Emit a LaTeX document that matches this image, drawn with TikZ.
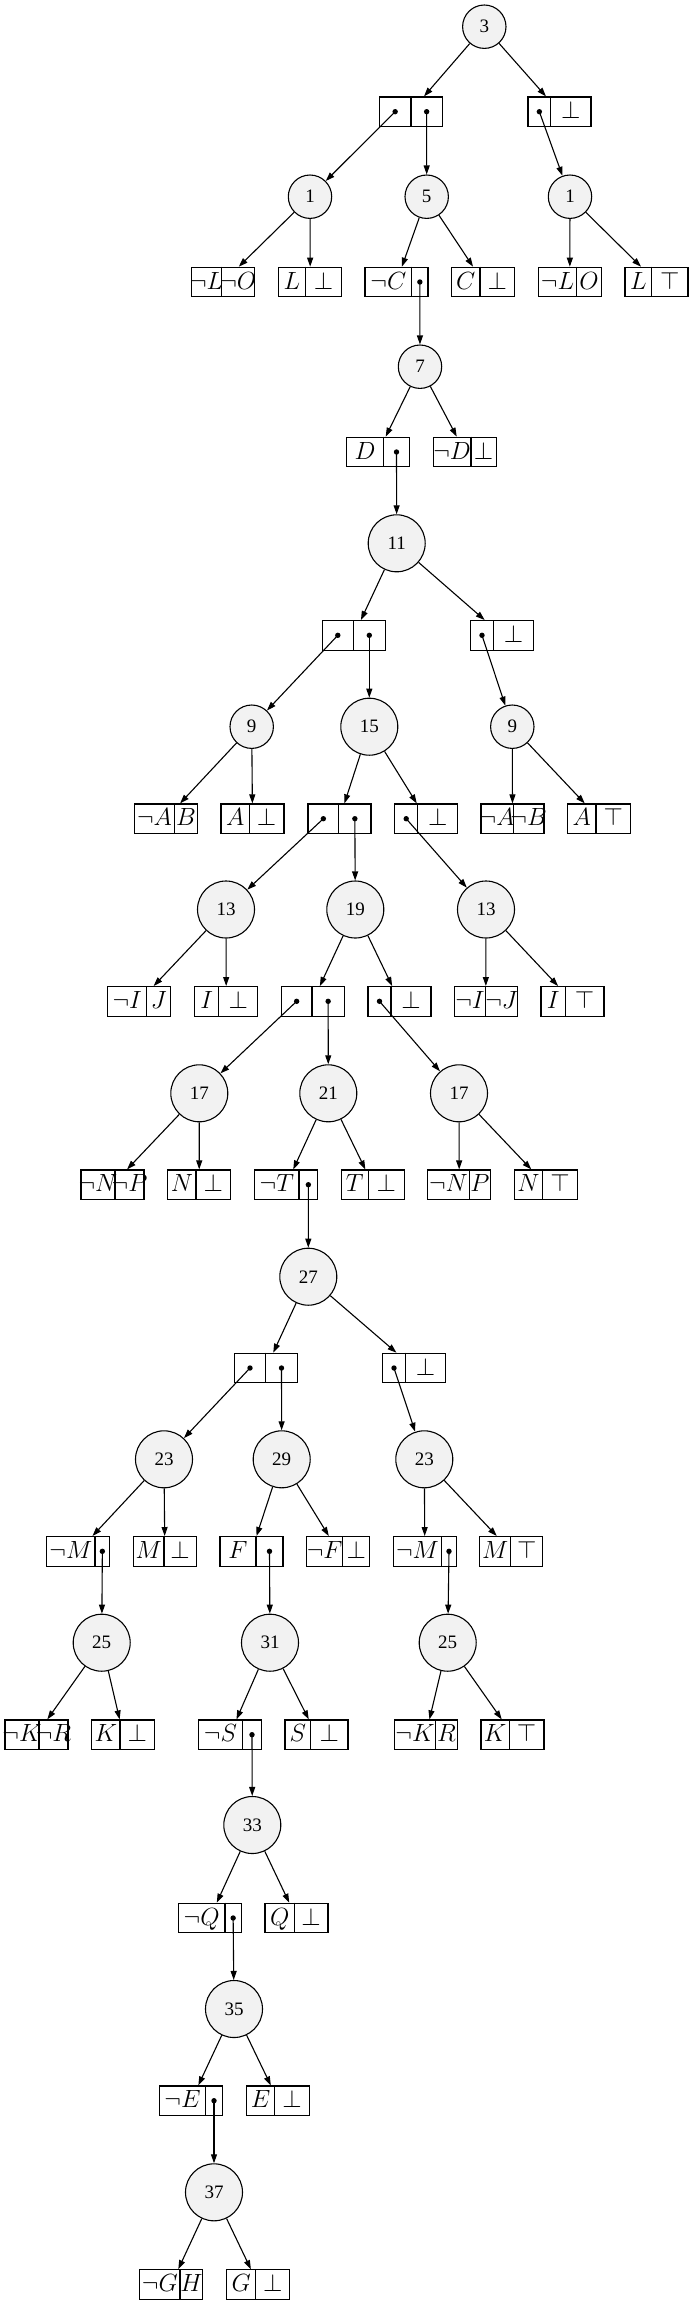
\documentclass[tikz,border=0pt]{standalone}
\usepackage{fontspec}
\setmainfont{Liberation Serif}
\usetikzlibrary{arrows.meta}

\definecolor{nodegray}{RGB}{242,242,242}

\tikzset{
	cnode/.style={circle, draw, fill=nodegray, minimum size=43.4pt, inner sep=0pt, line width=1.1pt, font=\fontsize{19}{22}\selectfont},
	cnodebig/.style={cnode, minimum size=57pt},
	recbox/.style={draw, rectangle, minimum width=63pt, minimum height=29.5pt, inner sep=0pt, line width=1.1pt},
	rectext/.style={inner sep=0pt, text height=16.5pt, text depth=2.5pt, font=\Huge},
	link/.style={-{Triangle[length=9pt,width=6pt]}, line width=1.1pt},
	portdot/.style={circle, fill, inner sep=0pt, minimum size=5.4pt},
}

% record with two cells: name, left edge, divider, y, left text, right text
\newcommand{\rec}[6]{
	\node[recbox] (#1) at ({#2+31.5},#4) {};
	\coordinate (#1-d) at (#3,#4);
	\draw[line width=1.1pt] (#1.north -| #1-d) -- (#1.south -| #1-d);
	\coordinate (#1-a) at ({(#2+#3)/2},#4);
	\coordinate (#1-b) at ({(#3+#2+63)/2},#4);
	\node[rectext] at (#1-a) {#5};
	\node[rectext] at (#1-b) {#6};
}

\begin{document}
\begin{tikzpicture}[x=1pt, y=-1pt]
	\useasboundingbox (0,0) rectangle (693,2305);

	% decision nodes
	\node[cnode] (n3) at (484.3,26.7) {3};
	\node[cnode] (n1a) at (310,196.7) {1};
	\node[cnode] (n5) at (426.7,196.7) {5};
	\node[cnode] (n1b) at (570,196.7) {1};
	\node[cnode] (n7) at (420,366.7) {7};
	\node[cnodebig] (n11) at (396.7,543.3) {11};
	\node[cnode] (n9a) at (251.7,726.7) {9};
	\node[cnodebig] (n15) at (369.3,726.7) {15};
	\node[cnode] (n9b) at (512.3,726.7) {9};
	\node[cnodebig] (n13a) at (226,909.5) {13};
	\node[cnodebig] (n19) at (355.3,909.5) {19};
	\node[cnodebig] (n13b) at (486,909.5) {13};
	\node[cnodebig] (n17a) at (199.3,1093.3) {17};
	\node[cnodebig] (n21) at (328.3,1093.3) {21};
	\node[cnodebig] (n17b) at (459,1093.3) {17};
	\node[cnodebig] (n27) at (308.3,1276.7) {27};
	\node[cnodebig] (n23a) at (164,1459.3) {23};
	\node[cnodebig] (n29) at (281.7,1459.3) {29};
	\node[cnodebig] (n23b) at (424.3,1459.3) {23};
	\node[cnodebig] (n25a) at (101.7,1642.7) {25};
	\node[cnodebig] (n31) at (270,1642.7) {31};
	\node[cnodebig] (n25b) at (447.7,1642.7) {25};
	\node[cnodebig] (n33) at (252.3,1825) {33};
	\node[cnodebig] (n35) at (234,2009) {35};
	\node[cnodebig] (n37) at (214,2192.3) {37};

	% records
	\rec{r3l}{379.3}{411}{111.7}{}{}
	\rec{r3r}{528}{550.7}{111.7}{}{$\bot$}

	\rec{r1al}{191.7}{221.7}{282}{$\neg L$}{$\neg O$}
	\rec{r1ar}{278.7}{305.3}{282}{$L$}{$\bot$}
	\rec{r5l}{365}{411.7}{282}{$\neg C$}{}
	\rec{r5r}{451.7}{480}{282}{$C$}{$\bot$}
	\rec{r1bl}{538.3}{576.7}{282}{$\neg L$}{$O$}
	\rec{r1br}{625}{651.7}{282}{$L$}{$\top$}

	\rec{r7l}{346.7}{383.3}{452}{$D$}{}
	\rec{r7r}{433.3}{471}{452}{$\neg D$}{$\bot$}

	\rec{r11l}{322.3}{353.3}{635.3}{}{}
	\rec{r11r}{470.7}{493.3}{635.3}{}{$\bot$}

	\rec{r9al}{134.3}{174.7}{818.7}{$\neg A$}{$B$}
	\rec{r9ar}{221}{249.3}{818.7}{$A$}{$\bot$}
	\rec{r15l}{308}{338.7}{818.7}{}{}
	\rec{r15r}{394.7}{417.7}{818.7}{}{$\bot$}
	\rec{r9bl}{481}{513.3}{818.7}{$\neg A$}{$\neg B$}
	\rec{r9br}{567.7}{596}{818.7}{$A$}{$\top$}

	\rec{r13al}{107.7}{146.7}{1001.3}{$\neg I$}{$J$}
	\rec{r13ar}{194.7}{218.7}{1001.3}{$I$}{$\bot$}
	\rec{r19l}{281.3}{312}{1001.3}{}{}
	\rec{r19r}{368}{391}{1001.3}{}{$\bot$}
	\rec{r13bl}{454.3}{485.7}{1001.3}{$\neg I$}{$\neg J$}
	\rec{r13br}{541}{565.3}{1001.3}{$I$}{$\top$}

	\rec{r17al}{81}{115}{1184.7}{$\neg N$}{$\neg P$}
	\rec{r17ar}{167.7}{196}{1184.7}{$N$}{$\bot$}
	\rec{r21l}{254.7}{299}{1184.7}{$\neg T$}{}
	\rec{r21r}{341.3}{368.3}{1184.7}{$T$}{$\bot$}
	\rec{r17bl}{427.7}{469.3}{1184.7}{$\neg N$}{$P$}
	\rec{r17br}{514.3}{542.7}{1184.7}{$N$}{$\top$}

	\rec{r27l}{234.7}{265.3}{1368}{}{}
	\rec{r27r}{382.7}{405.3}{1368}{}{$\bot$}

	\rec{r23al}{46.7}{95}{1551.3}{$\neg M$}{}
	\rec{r23ar}{133.3}{164}{1551.3}{$M$}{$\bot$}
	\rec{r29l}{220}{256}{1551.3}{$F$}{}
	\rec{r29r}{306.7}{342.7}{1551.3}{$\neg F$}{$\bot$}
	\rec{r23bl}{393.3}{441.7}{1551.3}{$\neg M$}{}
	\rec{r23br}{479.7}{510.7}{1551.3}{$M$}{$\top$}

	\rec{r25al}{5}{39}{1734.7}{$\neg K$}{$\neg R$}
	\rec{r25ar}{91.7}{120}{1734.7}{$K$}{$\bot$}
	\rec{r31l}{198.3}{242.7}{1734.7}{$\neg S$}{}
	\rec{r31r}{285}{310.7}{1734.7}{$S$}{$\bot$}
	\rec{r25bl}{394.3}{435.7}{1734.7}{$\neg K$}{$R$}
	\rec{r25br}{481}{509.3}{1734.7}{$K$}{$\top$}

	\rec{r33l}{178.3}{225}{1918}{$\neg Q$}{}
	\rec{r33r}{265}{294.3}{1918}{$Q$}{$\bot$}

	\rec{r35l}{159.7}{205.3}{2100.7}{$\neg E$}{}
	\rec{r35r}{246.7}{274.3}{2100.7}{$E$}{$\bot$}

	\rec{r37l}{139.7}{180}{2284.5}{$\neg G$}{$H$}
	\rec{r37r}{226.7}{255.7}{2284.5}{$G$}{$\bot$}

	% node to record
	\foreach \u/\v in {n3/r3l, n3/r3r, n1a/r1al, n1a/r1ar, n5/r5l, n5/r5r, n1b/r1bl, n1b/r1br,
		n7/r7l, n7/r7r, n11/r11l, n11/r11r, n9a/r9al, n9a/r9ar, n15/r15l, n15/r15r, n9b/r9bl, n9b/r9br,
		n13a/r13al, n13a/r13ar, n19/r19l, n19/r19r, n13b/r13bl, n13b/r13br,
		n17a/r17al, n17a/r17ar, n21/r21l, n21/r21r, n17b/r17bl, n17b/r17br,
		n27/r27l, n27/r27r, n23a/r23al, n23a/r23ar, n29/r29l, n29/r29r, n23b/r23bl, n23b/r23br,
		n25a/r25al, n25a/r25ar, n31/r31l, n31/r31r, n25b/r25bl, n25b/r25br,
		n33/r33l, n33/r33r, n35/r35l, n35/r35r, n37/r37l, n37/r37r}
		\draw[link] (\u) -- (\v);

	% ports to nodes
	\foreach \u/\v in {r3l-a/n1a, r3l-b/n5, r3r-a/n1b, r5l-b/n7, r7l-b/n11,
		r11l-a/n9a, r11l-b/n15, r11r-a/n9b, r15l-a/n13a, r15l-b/n19, r15r-a/n13b,
		r19l-a/n17a, r19l-b/n21, r19r-a/n17b, r21l-b/n27,
		r27l-a/n23a, r27l-b/n29, r27r-a/n23b, r23al-b/n25a, r29l-b/n31, r23bl-b/n25b,
		r31l-b/n33, r33l-b/n35, r35l-b/n37}
		\draw[link] (\u) node[portdot] {} -- (\v);
\end{tikzpicture}
\end{document}
